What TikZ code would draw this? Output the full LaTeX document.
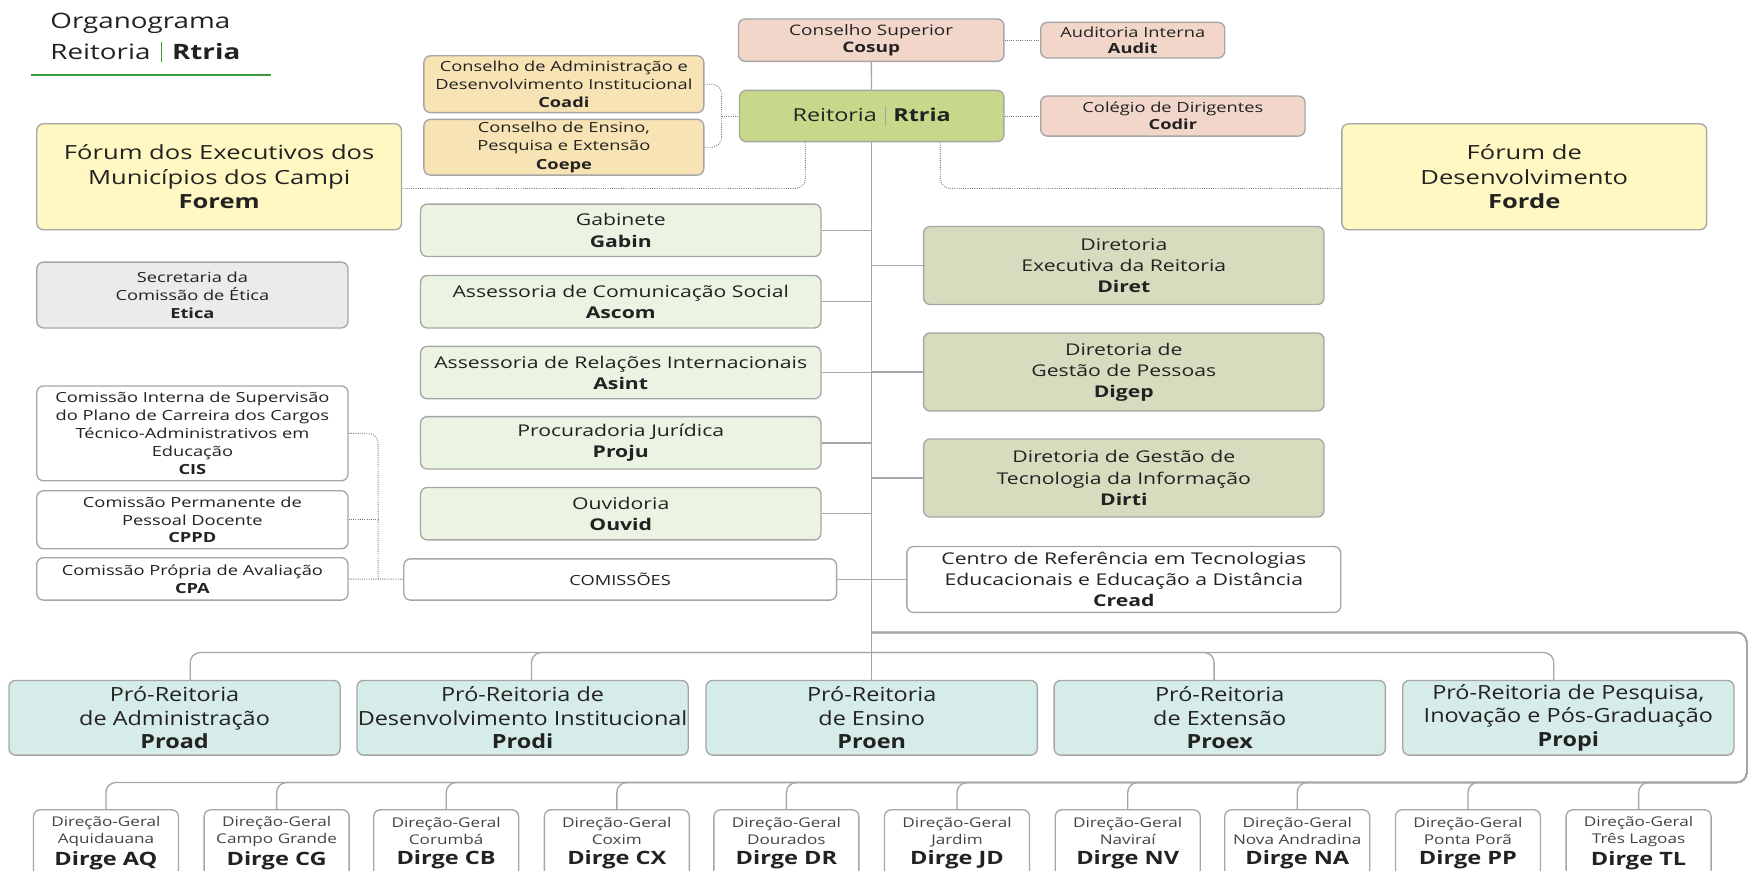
\documentclass[tikz,border=0pt]{standalone}
\usepackage{fontspec}
\setmainfont[FakeStretch=1.31]{Open Sans}
\newfontfamily\condfont[FakeStretch=1.2]{Open Sans}
\newfontfamily\campfont[FakeStretch=1.28]{Open Sans}
\definecolor{cPink}{HTML}{F3D6CA}
\definecolor{cSand}{HTML}{F7E3B4}
\definecolor{cReit}{HTML}{C6D98A}
\definecolor{cForum}{HTML}{FFF8C2}
\definecolor{cStaff}{HTML}{EBF3E2}
\definecolor{cDir}{HTML}{D9DBBF}
\definecolor{cEtica}{HTML}{EBEBEB}
\definecolor{cPro}{HTML}{D6ECE8}
\definecolor{cLine}{HTML}{A6A6A6}
\definecolor{cText}{HTML}{222222}
\definecolor{cTitle}{HTML}{3C9A3C}
\newcommand{\fs}[2]{\fontsize{#1}{#2}\selectfont}

\begin{document}
\begin{tikzpicture}[x=1pt, y=-1pt]
    \tikzset{
        box/.style={draw=cLine, line width=1.2pt, rounded corners=6pt, align=center, inner sep=0pt, text=cText},
        wh/.style 2 args={minimum width=#1, minimum height=#2},
        conn/.style={draw=cLine, line width=1.2pt, rounded corners=9pt},
        dots/.style={draw=cLine!70!black, line width=0.8pt, dash pattern=on 0.8pt off 1.2pt, rounded corners=9pt},
    }
    \clip (0,0) rectangle (1568,780);
    % title
    \node[anchor=north west, align=left, inner sep=0pt, text=cText, font=\fs{19}{27}] (title) at (45,12)
        {Organograma\\Reitoria\hspace{9pt}\textcolor{cTitle}{\rule[-3pt]{1.3pt}{18pt}}\hspace{9pt}\textbf{Rtria}};
    \draw[cTitle, line width=1.5pt] (28,67) -- (243,67);

    % top: councils
    \node[box, fill=cPink, wh={238}{38}, font=\fs{13}{16}] (cosup) at (781,36) {Conselho Superior\\\textbf{Cosup}};
    \node[box, fill=cPink, wh={165}{32}, font=\fs{12.5}{15}] (audit) at (1015.5,36) {Auditoria Interna\\\textbf{Audit}};
    \node[box, fill=cReit, wh={237}{46}, font=\fs{16}{19}] (reit) at (781.5,104)
        {Reitoria\hspace{7pt}\textcolor{cLine}{\rule[-4pt]{0.8pt}{18pt}}\hspace{7pt}\textbf{Rtria}};
    \node[box, fill=cPink, wh={237}{36}, font=\fs{12.5}{15}] (codir) at (1051.5,104) {Colégio de Dirigentes\\\textbf{Codir}};
    \node[box, fill=cSand, wh={251}{51}, font=\fs{12.5}{16.5}] (coadi) at (505.5,75.5)
        {Conselho de Administração e\\Desenvolvimento Institucional\\\textbf{Coadi}};
    \node[box, fill=cSand, wh={251}{50}, font=\fs{12.5}{16.5}] (coepe) at (505.5,132)
        {Conselho de Ensino,\\Pesquisa e Extensão\\\textbf{Coepe}};
    \node[box, fill=cForum, wh={327}{95}, font=\fs{17.5}{22}] (forem) at (196.5,158.5)
        {Fórum dos Executivos dos\\Municípios dos Campi\\\textbf{Forem}};
    \node[box, fill=cForum, wh={327}{95}, font=\fs{17.5}{22}] (forde) at (1366.5,158.5)
        {Fórum de\\Desenvolvimento\\\textbf{Forde}};

    % staff, left of the trunk
    \foreach \n/\y/\t in {gabin/206.5/Gabinete\\\textbf{Gabin},
                          ascom/270.5/Assessoria de Comunicação Social\\\textbf{Ascom},
                          asint/334/Assessoria de Relações Internacionais\\\textbf{Asint},
                          proju/397/Procuradoria Jurídica\\\textbf{Proju},
                          ouvid/460.5/Ouvidoria\\\textbf{Ouvid}}
        \node[box, fill=cStaff, wh={359}{47}, font=\fs{14.5}{19}] (\n) at (556.5,\y) {\t};
    \node[box, fill=white, wh={388}{37}, font=\fs{12.5}{15}] (comis) at (556,519.5) {COMISSÕES};

    % directorates, right of the trunk
    \foreach \n/\y/\t in {diret/238/Diretoria\\Executiva da Reitoria\\\textbf{Diret},
                          digep/333.5/Diretoria de\\Gestão de Pessoas\\\textbf{Digep},
                          dirti/428.5/Diretoria de Gestão de\\Tecnologia da Informação\\\textbf{Dirti}}
        \node[box, fill=cDir, wh={359}{70}, font=\fs{14.5}{19}] (\n) at (1007.5,\y) {\t};
    \node[box, fill=white, wh={389}{59}, font=\fs{14.5}{19}] (cread) at (1007.5,519.5)
        {Centro de Referência em Tecnologias\\Educacionais e Educação a Distância\\\textbf{Cread}};

    % commissions on the left
    \node[box, fill=cEtica, wh={279}{59}, font=\fs{12.5}{16}] (etica) at (172.5,264.5)
        {Secretaria da\\Comissão de Ética\\\textbf{Etica}};
    \node[box, fill=white, wh={279}{85}, font=\fs{12.5}{16}] (cis) at (172.5,388.5)
        {Comissão Interna de Supervisão\\do Plano de Carreira dos Cargos\\Técnico-Administrativos em\\Educação\\\textbf{CIS}};
    \node[box, fill=white, wh={279}{52}, font=\fs{12.5}{16}] (cppd) at (172.5,466)
        {Comissão Permanente de\\Pessoal Docente\\\textbf{CPPD}};
    \node[box, fill=white, wh={279}{38}, font=\fs{12.5}{16}] (cpa) at (172.5,519)
        {Comissão Própria de Avaliação\\\textbf{CPA}};

    % pro-reitorias
    \foreach \n/\x/\t in {proad/156.5/{Pró-Reitoria\\de Administração\\\textbf{Proad}},
                          prodi/468.5/{Pró-Reitoria de\\Desenvolvimento Institucional\\\textbf{Prodi}},
                          proen/781.5/{Pró-Reitoria\\de Ensino\\\textbf{Proen}},
                          proex/1093.5/{Pró-Reitoria\\de Extensão\\\textbf{Proex}},
                          propi/1406/{Pró-Reitoria de Pesquisa,\\Inovação e Pós-Graduação\\\textbf{Propi}}}
        \node[box, fill=cPro, wh={297}{67}, font=\condfont\fs{17.5}{21}] (\n) at (\x,643.5) {\t};

    % campi
    \foreach \n/\x/\c in {AQ/95/Aquidauana, CG/248/Campo Grande, CB/400/Corumbá, CX/553/Coxim,
                          DR/705/Dourados, JD/858/Jardim, NV/1011/Naviraí, NA/1163/Nova Andradina,
                          PP/1316/Ponta Porã, TL/1469/Três Lagoas}
        \node[box, fill=white, wh={130}{60}, font=\campfont\fs{12}{15}, text=cText!85] (d\n) at (\x,756)
            {Direção-Geral\\\c\\[3pt]{\fs{16.5}{19}\bfseries\color{cText}Dirge \n}};

    % solid connectors
    \coordinate (bus) at (781.5,585);
    \coordinate (loopa) at (781.5,567);
    \coordinate (loopr) at (1566,567);
    \coordinate (loopb) at (1566,701.5);
    \draw[conn] (cosup) -- (reit);
    \draw[conn] (reit) -- (bus);
    \foreach \n in {gabin,ascom,asint,proju,ouvid,comis}
        \draw[conn] (\n.east) -- (\n.east -| bus);
    \foreach \n in {diret,digep,dirti,cread}
        \draw[conn] (\n.west) -- (\n.west -| bus);
    \foreach \n/\d in {proad/14,prodi/8,proen/0,proex/-5,propi/-13}
        \draw[conn] (bus) -| ([xshift=\d]\n.north);
    \foreach \n in {AQ,CG,CB,CX,DR,JD,NV,NA,PP,TL}
        \draw[conn] (loopa) -- (loopr) -- (loopb) -| (d\n.north);

    % dotted links
    \coordinate (cbr) at (647,104);
    \coordinate (fl) at (722,169);
    \coordinate (fr) at (843,169);
    \coordinate (cmb) at (339,519.5);
    \draw[dots] (cosup) -- (audit);
    \draw[dots] (reit) -- (codir);
    \draw[dots] (coadi.east) -| (cbr) |- (coepe.east);
    \draw[dots] (cbr) -- (reit);
    \draw[dots] (reit.south -| fl) |- (forem.east |- fl);
    \draw[dots] (reit.south -| fr) |- (forde.west |- fr);
    \draw[dots] (cis.east) -| (cmb);
    \draw[dots] (cppd.east) -- (cppd.east -| cmb);
    \draw[dots] (cpa) -- (comis);
\end{tikzpicture}
\end{document}
